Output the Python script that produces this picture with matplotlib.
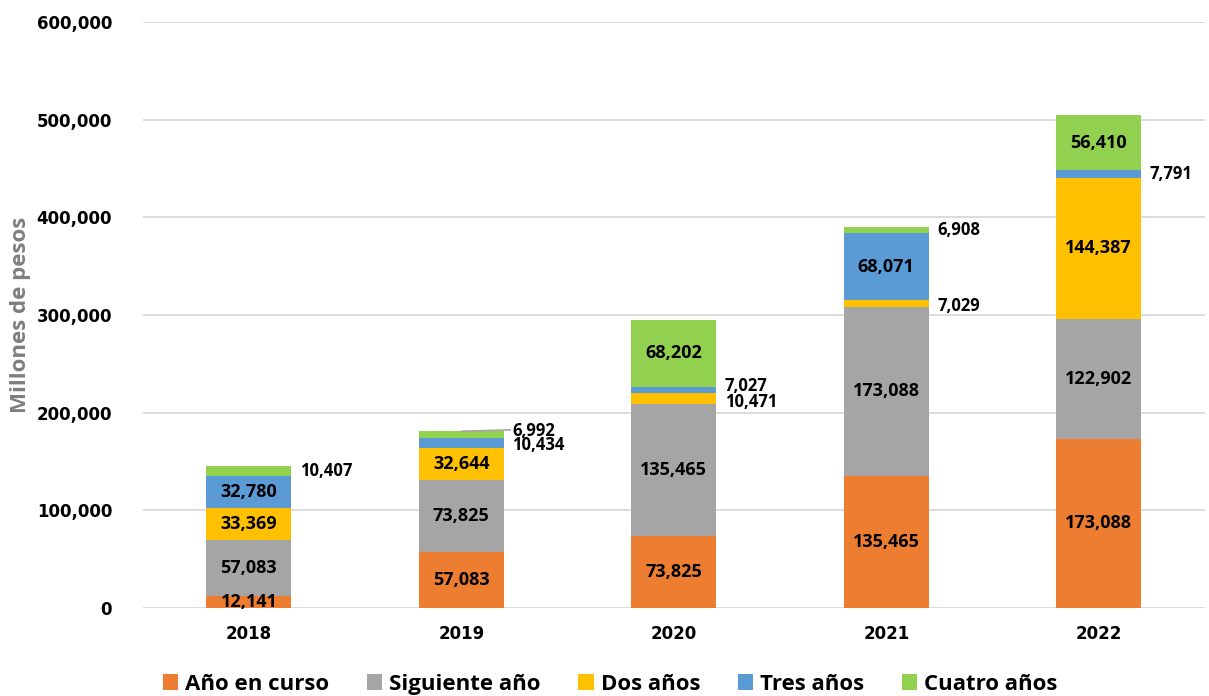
import matplotlib.pyplot as plt
import numpy as np

# datos
anios = ["2018", "2019", "2020", "2021", "2022"]
series = ["Año en curso", "Siguiente año", "Dos años", "Tres años", "Cuatro años"]
ano_en_curso = [12141, 57083, 73825, 135465, 173088]
siguiente = [57083, 73825, 135465, 173088, 122902]
dos_anios = [33369, 32644, 10471, 7029, 144387]
tres_anios = [32780, 10434, 7027, 68071, 7791]
cuatro_anios = [10407, 6992, 68202, 6908, 56410]

valores = [ano_en_curso, siguiente, dos_anios, tres_anios, cuatro_anios]
colores = ["#ED7D31", "#A5A5A5", "#FFC000", "#5B9BD5", "#92D050"]

FUENTE = "Open Sans"

# etiquetas que van fuera de la barra: (serie, anio) -> desplazamiento vertical
fuera = {(4, 0): 0, (4, 1): 4000, (3, 1): -1500, (3, 2): 4000, (2, 2): -3500,
         (2, 3): -3000, (4, 3): 0, (3, 4): 0}

fig = plt.figure(figsize=(12.09, 6.96), dpi=100)
ax = fig.add_axes([0.118, 0.1264, 0.8787, 0.842])

x = np.arange(len(anios))
ancho = 0.40
base = np.zeros(len(anios))
for i, (serie, vals) in enumerate(zip(series, valores)):
    vals = np.array(vals)
    ax.bar(x, vals, ancho, bottom=base, color=colores[i], label=serie, zorder=3)
    for j, v in enumerate(vals):
        centro = base[j] + v / 2
        txt = f"{v:,}"
        if (i, j) in fuera:
            ax.text(x[j] + ancho / 2 + 0.04, centro + fuera[(i, j)], txt,
                    ha="left", va="center", fontsize=12, fontweight="bold",
                    family=FUENTE, color="black", zorder=5)
        else:
            ax.text(x[j], centro, txt, ha="center", va="center", fontsize=13,
                    fontweight="bold", family=FUENTE, color="black", zorder=5)
    base += vals

# linea guia 2019
tot19 = sum(v[1] for v in valores)
ax.plot([x[1], x[1] + ancho / 2 + 0.03], [tot19, tot19 + 1500], color="#A5A5A5",
        lw=1.2, zorder=4)

ax.set_xlim(-0.5, len(anios) - 0.5)
ax.set_ylim(0, 600000)
ax.set_yticks(np.arange(0, 600001, 100000))
ax.set_yticklabels([f"{int(t):,}" for t in np.arange(0, 600001, 100000)],
                   fontsize=12, fontweight="bold")
ax.set_xticks(x)
ax.set_xticklabels(anios, fontsize=12, fontweight="bold")
ax.tick_params(length=0, pad=12)
ax.tick_params(axis="y", pad=22)
ax.grid(axis="y", color="#D9D9D9", lw=1.3, zorder=0)
for s in ["top", "right", "left", "bottom"]:
    ax.spines[s].set_visible(False)

ax.set_ylabel("Millones de pesos", fontsize=16, fontweight="bold",
              color="#7F7F7F", family=FUENTE, labelpad=4)

ax.legend(loc="center", bbox_to_anchor=(0.44, -0.13), ncol=5, frameon=False,
          prop={"family": FUENTE, "weight": "bold", "size": 16},
          handlelength=0.7, handleheight=0.7, handletextpad=0.3, columnspacing=1.7)

fig.savefig("out.png", dpi=100)
